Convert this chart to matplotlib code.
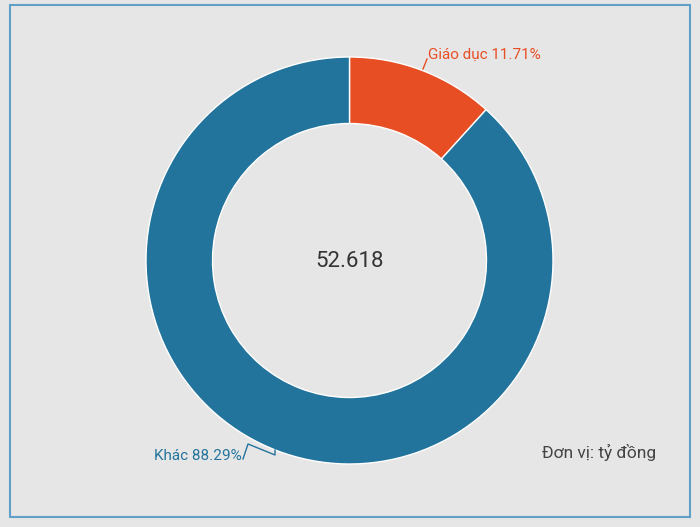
import matplotlib.pyplot as plt
from matplotlib.patches import Rectangle

# data
labels = ["Giáo dục", "Khác"]
shares = [11.71, 88.29]
colors = ["#e84e24", "#23749c"]
total_text = "52.618"
unit_text = "Đơn vị: tỷ đồng"

plt.rcParams['font.family'] = ['Roboto', 'DejaVu Sans']

W, H = 700, 527
fig = plt.figure(figsize=(W / 100, H / 100), dpi=100)
fig.patch.set_facecolor("#e6e6e6")
ax = fig.add_axes([0, 0, 1, 1])
ax.set_facecolor("#e6e6e6")

cx, cy = 349.5, H - 260.5
R = 203.5
wedges, _ = ax.pie(shares, colors=colors, startangle=90, counterclock=False,
                   center=(cx, cy), radius=R,
                   wedgeprops=dict(width=R - 137, edgecolor="white", linewidth=1))
ax.set_xlim(0, W)
ax.set_ylim(0, H)
ax.set_aspect("equal")
ax.axis("off")

# frame
ax.add_patch(Rectangle((9.5, H - 517), 680.5, 512, fill=False,
                       edgecolor="#5f9fc9", linewidth=1.5))

# center value
ax.text(cx, cy - 1, total_text, ha="center", va="center", fontsize=16,
        color="#333333")

# labels with leader lines
ax.plot([423, 427], [H - 69, H - 59], color=colors[0], lw=1)
ax.text(428, H - 55, "%s %.2f%%" % (labels[0], shares[0]), ha="left", va="center",
        fontsize=11, color=colors[0])

ax.plot([275, 275, 248, 243], [H - 450, H - 455, H - 444, H - 459], color=colors[1], lw=1)
ax.text(242, H - 456, "%s %.2f%%" % (labels[1], shares[1]), ha="right", va="center",
        fontsize=11, color=colors[1])

ax.text(599, H - 452, unit_text, ha="center", va="center", fontsize=12.5,
        color="#444444")

fig.savefig("out.png", dpi=100, facecolor=fig.get_facecolor())
